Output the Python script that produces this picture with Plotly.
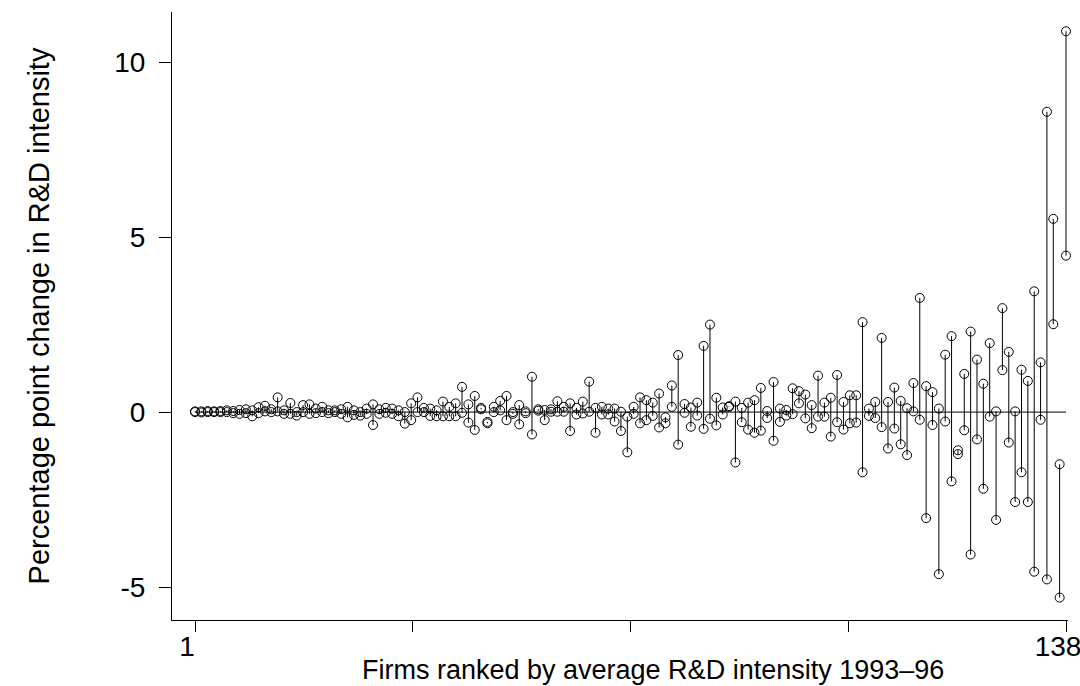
import plotly.graph_objects as go

# Firm rank (1 = lowest average R&D intensity 1993-96)
firm_rank = list(range(1, 139))

# Two values per firm, joined by a vertical segment
value_a = [
    0.02, 0.02, 0.03, 0.00, 0.03, 0.05, 0.03, 0.06, 0.08, 0.05,
    0.14, 0.18, 0.08, 0.42, 0.05, 0.26, 0.00, 0.20, 0.22, 0.10,
    0.15, 0.05, 0.05, 0.08, 0.15, 0.05, 0.00, 0.10, 0.22, 0.08,
    0.12, 0.10, 0.05, 0.00, 0.25, 0.42, 0.12, 0.10, 0.05, 0.30,
    0.15, 0.25, 0.72, 0.22, 0.46, 0.12, -0.28, 0.15, 0.32, 0.46,
    0.00, 0.20, 0.02, 1.01, 0.08, 0.06, 0.08, 0.31, 0.15, 0.25,
    0.12, 0.30, 0.87, 0.12, 0.15, 0.10, 0.10, 0.01, -0.13, 0.15,
    0.42, 0.34, 0.27, 0.53, -0.15, 0.76, 1.63, 0.23, 0.13, 0.27,
    1.89, 2.50, 0.41, 0.13, 0.17, 0.30, 0.12, 0.27, 0.34, 0.69,
    0.03, 0.86, 0.10, 0.06, 0.68, 0.60, 0.50, 0.20, 1.04, 0.27,
    0.41, 1.06, 0.29, 0.48, 0.48, 2.57, 0.10, 0.29, 2.12, 0.29,
    0.70, 0.32, 0.11, 0.83, 3.26, 0.74, 0.57, 0.10, 1.64, 2.17,
    -1.09, 1.09, 2.30, 1.50, 0.81, 1.97, 0.02, 2.97, 1.72, 0.02,
    1.21, 0.89, 3.45, 1.42, 8.58, 5.52, -1.49, 10.88,
]
value_b = [
    0.00, -0.01, 0.00, 0.02, 0.00, 0.00, -0.03, -0.05, -0.03, -0.12,
    -0.03, 0.02, 0.00, 0.02, -0.05, -0.05, -0.10, 0.00, -0.05, -0.03,
    0.00, -0.03, 0.00, -0.05, -0.15, -0.08, -0.10, -0.05, -0.37, -0.05,
    -0.02, -0.05, -0.12, -0.33, -0.23, 0.00, 0.00, -0.11, -0.12, -0.12,
    -0.12, -0.12, -0.02, -0.30, -0.51, 0.08, -0.32, 0.00, 0.05, -0.23,
    -0.05, -0.35, -0.03, -0.64, 0.04, -0.23, 0.01, 0.01, 0.01, -0.54,
    -0.07, -0.04, 0.01, -0.59, -0.07, -0.07, -0.27, -0.54, -1.15, -0.05,
    -0.32, -0.23, -0.11, -0.44, -0.32, 0.15, -0.93, -0.02, -0.42, -0.10,
    -0.48, -0.19, -0.38, -0.07, 0.15, -1.44, -0.29, -0.50, -0.59, -0.53,
    -0.17, -0.82, -0.28, -0.10, -0.06, 0.25, -0.18, -0.46, -0.13, -0.13,
    -0.70, -0.29, -0.50, -0.32, -0.30, -1.72, -0.11, -0.17, -0.43, -1.04,
    -0.47, -0.92, -1.23, 0.02, -0.22, -3.03, -0.37, -4.63, -0.27, -1.98,
    -1.20, -0.52, -4.07, -0.78, -2.19, -0.13, -3.08, 1.20, -0.87, -2.57,
    -1.72, -2.57, -4.56, -0.22, -4.78, 2.51, -5.30, 4.47,
]

y_tick_vals = [-5, 0, 5, 10]
y_tick_text = ["-5", "0", "5", "10"]
x_tick_vals = [1, 35.25, 69.5, 103.75, 138]
x_tick_text = ["1", "", "", "", "138"]
x_title = "Firms ranked by average R&D intensity 1993–96"
y_title = "Percentage point change in R&D intensity"

# Build segments
seg_x, seg_y = [], []
for r, a, b in zip(firm_rank, value_a, value_b):
    seg_x += [r, r, None]
    seg_y += [a, b, None]

font = "Liberation Sans, Arial, Helvetica, sans-serif"
FS_TICK = 28
FS_TITLE = 27

fig = go.Figure()
fig.add_trace(go.Scatter(x=seg_x, y=seg_y, mode="lines",
                         line=dict(color="black", width=1),
                         hoverinfo="skip", showlegend=False, cliponaxis=False))
fig.add_trace(go.Scatter(x=firm_rank + firm_rank, y=value_a + value_b, mode="markers",
                         marker=dict(symbol="circle-open", size=9, color="black",
                                     line=dict(width=1, color="black")),
                         showlegend=False, cliponaxis=False))

fig.add_shape(type="line", x0=1, x1=138, y0=0, y1=0, xref="x", yref="y",
              line=dict(color="black", width=1))

px_per_unit = 871 / 137
L, R, T, B = 172, 12, 12, 66
plot_w = 1080 - L - R
plot_h = 686 - T - B

fig.add_annotation(text=x_title, xref="paper", yref="paper",
                   x=(653 - L) / plot_w, y=(620 - 686) / plot_h,
                   xanchor="center", yanchor="bottom", showarrow=False,
                   borderpad=0, font=dict(size=FS_TITLE))

fig.update_layout(
    width=1080, height=686,
    margin=dict(l=L, r=R, t=T, b=B),
    paper_bgcolor="white", plot_bgcolor="white",
    font=dict(family=font, size=FS_TICK, color="black"),
    xaxis=dict(range=[1 - 23 / px_per_unit, 138 + 2 / px_per_unit],
               tickvals=x_tick_vals, ticktext=x_tick_text,
               ticks="outside", ticklen=11, tickwidth=1, tickcolor="black",
               showline=True, linecolor="black", linewidth=1, showgrid=False, zeroline=False,
               ticklabelstandoff=-10, ticklabelshift=-8, automargin=False,
               ticklabeloverflow="allow",
               tickfont=dict(size=FS_TICK)),
    yaxis=dict(range=[-5.94, 11.43], tickvals=y_tick_vals, ticktext=y_tick_text,
               ticks="outside", ticklen=12, tickwidth=1, tickcolor="black",
               showline=True, linecolor="black", linewidth=1, showgrid=False, zeroline=False,
               ticklabelstandoff=8, automargin=False,
               tickfont=dict(size=FS_TICK),
               title=dict(text=y_title, font=dict(size=FS_TITLE + 2), standoff=56)),
)

fig.write_html("out.html")
